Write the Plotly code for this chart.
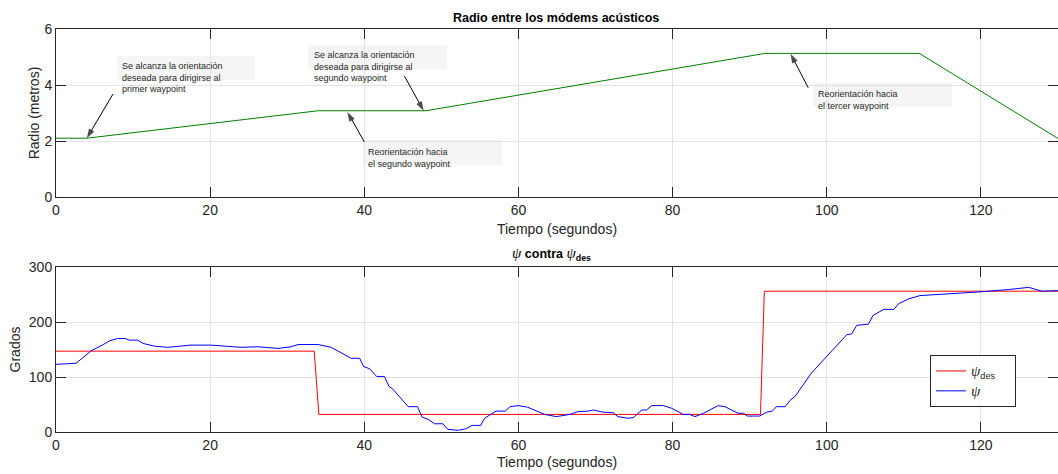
import plotly.graph_objects as go

# ---------------- data ----------------
radio_t = [0, 4, 34, 48, 92, 112, 130]
radio_v = [2.1, 2.1, 3.08, 3.08, 5.13, 5.13, 2.09]

psi_des_t = [0, 33.5, 34.1, 91.4, 91.9, 130]
psi_des_v = [147, 147, 32, 32, 256, 256]

psi_t = [0, 2.6, 3.3, 4.5, 6, 7, 8, 9, 9.5, 10.6, 11.3, 12.8, 14.5, 17.5, 20.1, 22.3, 24,
         26.2, 28.8, 30.5, 31.4, 34, 35.7, 37, 38.3, 39.4, 39.9, 40.7, 41.6, 42.6, 43.2,
         43.7, 45.7, 46.9, 47.5, 48.3, 49.1, 50.2, 50.8, 52.2, 53.2, 54, 55.1, 55.6, 56.5,
         57.1, 58.3, 58.9, 60, 61.2, 63.4, 64.9, 66.7, 67.7, 69, 69.7, 71, 72.3, 72.9,
         74.2, 74.9, 76, 76.6, 77.3, 78.8, 79.9, 81.4, 82.2, 82.9, 84, 85.9, 86.8, 88.5,
         89.2, 89.7, 91.3, 92.2, 92.9, 93.5, 94.6, 95.2, 95.9, 98, 100, 101.9, 102.6,
         103.2, 103.9, 105.4, 106, 107.4, 108.7, 109.3, 110.6, 112.1, 114.9, 115.8,
         120.1, 123.6, 126.2, 127.9, 130]
psi_v = [123, 125, 133, 147, 158, 166, 170, 170, 167, 167, 161, 156, 154, 158, 158, 156, 154,
         155, 152, 155, 159, 159, 154, 144, 134, 134, 119, 115, 101, 101, 83,
         78, 46, 46, 27, 23, 15, 15, 5, 3, 6, 12, 12, 25, 32,
         38, 38, 46, 48, 45, 32, 28, 32, 37, 38, 40, 36, 35, 28,
         25, 26, 40, 40, 48, 48, 43, 32, 32, 28, 34, 48, 46, 34,
         34, 29, 29, 36, 38, 46, 46, 57, 65, 107, 138, 168, 177,
         178, 194, 196, 212, 223, 223, 233, 242, 248, 250, 252,
         255, 259, 263, 256, 257]

x_ticks = [0, 20, 40, 60, 80, 100, 120]
radio_ticks = [0, 2, 4, 6]
grados_ticks = [0, 100, 200, 300]

# ---------------- layout helpers ----------------
W, H = 1058, 474
ML, MR, MT, MB = 56, 0, 29, 42
PW = W - ML - MR
PH = H - MT - MB


def px(x):
    return (x - ML) / PW


def py(y):
    return (H - MB - y) / PH


TXT = "#262626"
GRID = "#e3e3e3"
FONT = "Liberation Sans, Arial, sans-serif"
PSI = "<span style='font-family:Liberation Serif, DejaVu Serif, serif;font-size:15px'><i>ψ</i></span>"
NB = "&nbsp;"

fig = go.Figure()
fig.add_trace(go.Scatter(x=radio_t, y=radio_v, mode="lines", line=dict(color="#008000", width=1),
                         showlegend=False, xaxis="x", yaxis="y", hoverinfo="skip"))
fig.add_trace(go.Scatter(x=psi_des_t, y=psi_des_v, mode="lines", line=dict(color="#ff0000", width=1),
                         name=PSI + "<sub>des</sub>" + NB * 4, xaxis="x2", yaxis="y2"))
fig.add_trace(go.Scatter(x=psi_t, y=psi_v, mode="lines", line=dict(color="#0000ff", width=1),
                         name=PSI, xaxis="x2", yaxis="y2"))

# arrows: head (data) <- tail (data), drawn as line + oriented arrow marker
arrows = [
    ((4.0, 2.1), (7.4, 3.68)),
    ((47.7, 3.08), (45.2, 4.32)),
    ((37.8, 3.04), (40.0, 1.97)),
    ((95.3, 5.12), (97.6, 3.9)),
]
for (hx, hy), (tx, ty) in arrows:
    fig.add_trace(go.Scatter(x=[tx, hx], y=[ty, hy], mode="lines+markers", xaxis="x", yaxis="y",
                             line=dict(color="black", width=1), showlegend=False, hoverinfo="skip",
                             marker=dict(symbol=["circle", "arrow"], size=[0, 10], angleref="previous",
                                         color="black", line=dict(width=0))))

axis_common = dict(showline=True, linecolor=TXT, linewidth=1, mirror="ticks", ticks="inside",
                   ticklen=10, tickcolor=TXT, tickwidth=1, showgrid=True, gridcolor=GRID,
                   gridwidth=1, zeroline=False, tickfont=dict(size=14, color=TXT, family=FONT))

top_lo = py(197)
bot_hi = py(267)

fig.update_layout(
    width=W, height=H, margin=dict(l=ML, r=MR, t=MT, b=MB),
    paper_bgcolor="white", plot_bgcolor="white",
    font=dict(family=FONT, color=TXT),
    xaxis=dict(domain=[0, 1], range=[0, 130], anchor="y", tickvals=x_ticks,
               title=dict(text="Tiempo (segundos)", font=dict(size=14, color=TXT), standoff=7),
               **axis_common),
    yaxis=dict(domain=[top_lo, 1], range=[0, 6], anchor="x", tickvals=radio_ticks,
               title=dict(text="Radio (metros)", font=dict(size=14, color=TXT), standoff=1),
               **axis_common),
    xaxis2=dict(domain=[0, 1], range=[0, 130], anchor="y2", tickvals=x_ticks,
                title=dict(text="Tiempo (segundos)", font=dict(size=14, color=TXT), standoff=5),
                **axis_common),
    yaxis2=dict(domain=[0, bot_hi], range=[0, 300], anchor="x2", tickvals=grados_ticks,
                title=dict(text="Grados", font=dict(size=14, color=TXT), standoff=4),
                **axis_common),
    legend=dict(x=px(930), y=py(355), xanchor="left", yanchor="top", bgcolor="white",
                bordercolor=TXT, borderwidth=1, font=dict(size=13, color=TXT, family=FONT),
                tracegroupgap=0),
)

annotations = [
    dict(text="<b>Radio entre los módems acústicos</b>", x=px(556), y=py(18), xref="paper", yref="paper",
         showarrow=False, xanchor="center", yanchor="middle", font=dict(size=12.5, color="black")),
    dict(text=PSI + " <b>contra</b> " + PSI + "<sub><b>des</b></sub>", x=px(551), y=py(254),
         xref="paper", yref="paper", showarrow=False, xanchor="center", yanchor="middle",
         font=dict(size=12.5, color="black")),
]

# text boxes (pixel rectangles) and texts
boxes = [
    ((117, 56, 255, 80), (120, 59), "Se alcanza la orientación<br>deseada para dirigirse al<br>primer waypoint"),
    ((308, 45, 447, 69), (312, 48), "Se alcanza la orientación<br>deseada para dirigirse al<br>segundo waypoint"),
    ((363, 140, 502, 165), (366, 145), "Reorientación hacia<br>el segundo waypoint"),
    ((813, 83, 952, 107), (816, 87), "Reorientación hacia<br>el tercer waypoint"),
]
shapes = []
for (x0, y0, x1, y1), (tx, ty), txt in boxes:
    shapes.append(dict(type="rect", xref="paper", yref="paper", x0=px(x0), x1=px(x1), y0=py(y1), y1=py(y0),
                       fillcolor="#f5f5f5", line=dict(width=0), layer="below"))
    annotations.append(dict(text=txt, x=px(tx), y=py(ty), xref="paper", yref="paper", showarrow=False,
                            xanchor="left", yanchor="top", align="left",
                            font=dict(size=9, color=TXT, family=FONT)))

fig.update_layout(annotations=annotations, shapes=shapes)
fig.write_html("out.html")
